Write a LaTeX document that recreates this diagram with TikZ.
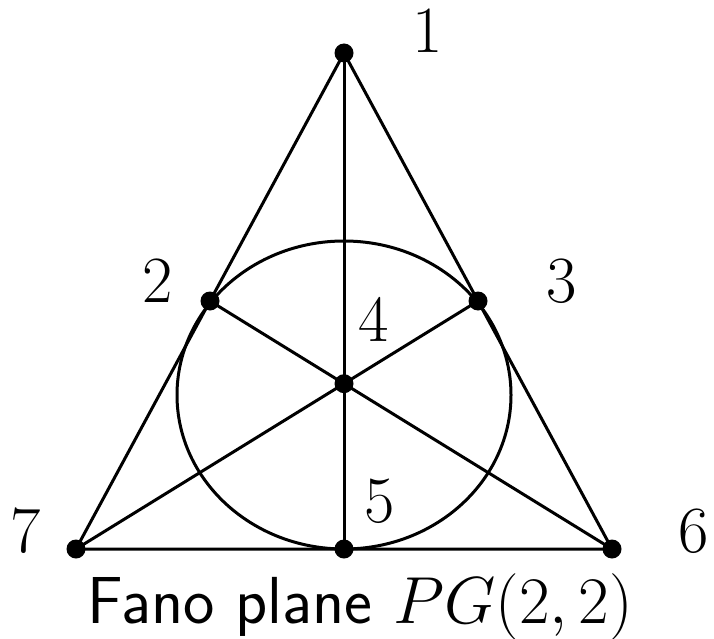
\documentclass[tikz,border=0pt]{standalone}
\usepackage{fix-cm}
\begin{document}
\begin{tikzpicture}[x=1pt,y=-1pt,line width=3pt,
  dot/.style={circle,fill=black,inner sep=0pt,minimum size=19pt},
  lbl/.style={font=\fontsize{66}{70}\selectfont,inner sep=0pt,anchor=base},
  captext/.style={font=\fontsize{66.5}{72}\selectfont\sffamily,inner sep=0pt,anchor=base west}]
\useasboundingbox (0,0) rectangle (714,639);
\coordinate (c1) at (344,53);
\coordinate (c7) at (76,549);
\coordinate (c6) at (612,549);
\coordinate (c5) at (344,549);
\coordinate (c2) at (210,301);
\coordinate (c3) at (478,301);
\coordinate (c4) at (344,383.7);
\draw (c1) -- (c7) -- (c6) -- cycle;
\draw (c1) -- (c5);
\draw (c7) -- (c3);
\draw (c6) -- (c2);
\draw (344,395) ellipse [x radius=167, y radius=154];
\foreach \i in {1,...,7} {\node[dot] (p\i) at (c\i) {};}
\node[lbl] (l1) at (428,53) {1};
\node[lbl] (l2) at (158,302) {2};
\node[lbl] (l3) at (562,302) {3};
\node[lbl] (l4) at (374,341) {4};
\node[lbl] (l5) at (380,522) {5};
\node[lbl] (l6) at (694,552) {6};
\node[lbl] (l7) at (26,552) {7};
\node[captext] (caption) at (86,623) {Fano plane $PG(2,2)$};
\end{tikzpicture}
\end{document}
